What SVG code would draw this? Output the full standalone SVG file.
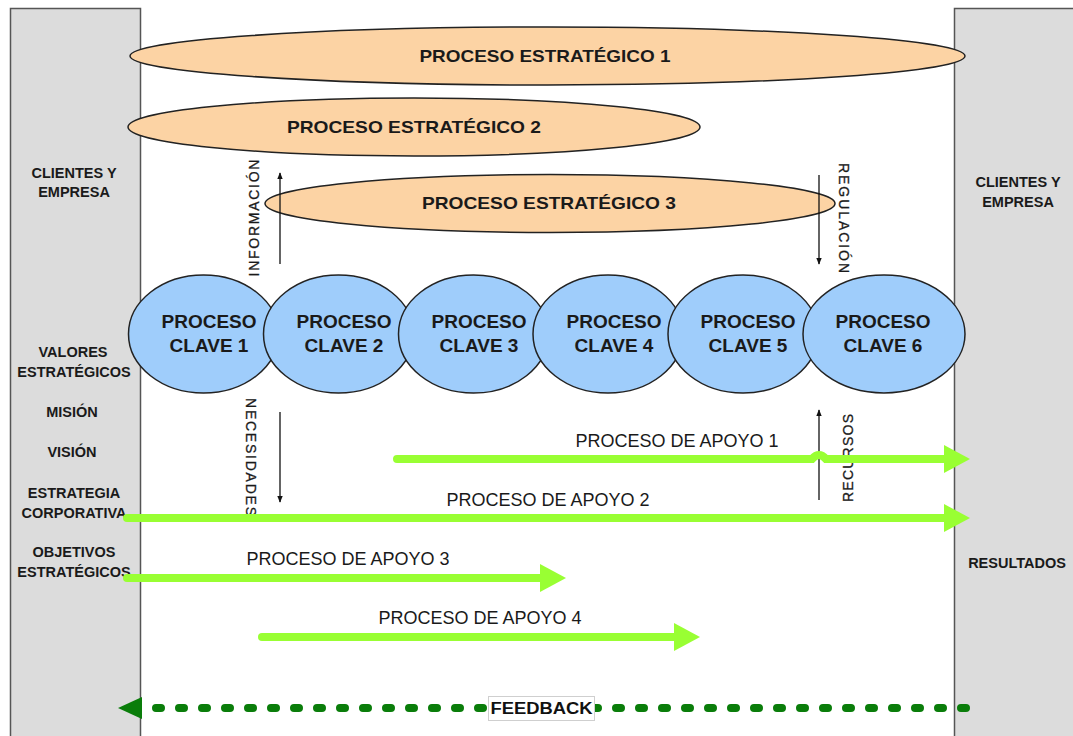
<svg xmlns="http://www.w3.org/2000/svg" width="1073" height="736" viewBox="0 0 1073 736">
  <style>
    .panel { fill: #dcdcdc; stroke: #555; stroke-width: 1.5; }
    .side { font-family: "Liberation Sans", Arial, sans-serif; font-weight: bold; font-size: 14.5px; fill: #1a1a1a; text-anchor: middle; }
    .strat { fill: #fcd3a4; stroke: #222; stroke-width: 1.5; }
    .strat-t { font-family: "Liberation Sans", Arial, sans-serif; font-weight: bold; font-size: 17px; fill: #1a1a1a; text-anchor: middle; }
    .key { fill: #9fcdfb; stroke: #222; stroke-width: 1.5; }
    .key-t { font-family: "Liberation Sans", Arial, sans-serif; font-weight: bold; font-size: 19px; fill: #1a1a1a; text-anchor: middle; }
    .flow-t { font-family: "Liberation Sans", Arial, sans-serif; font-size: 14px; fill: #1a1a1a; text-anchor: middle; stroke: #1a1a1a; stroke-width: 0.3; }
    .apoyo { stroke: #99ff33; stroke-width: 8; fill: none; stroke-linecap: round; }
    .apoyo-head { fill: #99ff33; }
    .apoyo-t { font-family: "Liberation Sans", Arial, sans-serif; font-size: 18px; fill: #1a1a1a; text-anchor: middle; }
    .thin { stroke: #111; stroke-width: 1.3; fill: none; }
    .fb { stroke: #0a7d0a; stroke-width: 8; stroke-linecap: round; stroke-dasharray: 5 18; fill: none; }
  </style>
  <defs>
    <marker id="tip" viewBox="0 0 10 10" refX="9" refY="5" markerWidth="7" markerHeight="7" orient="auto" markerUnits="userSpaceOnUse">
      <path d="M0,1 L10,5 L0,9 Z" fill="#111"/>
    </marker>
  </defs>

  <rect width="1073" height="736" fill="#ffffff"/>

  <!-- side panels -->
  <g id="panel-left">
    <rect class="panel" x="10.5" y="8.5" width="130" height="740"/>
    <text class="side" x="74" y="178">CLIENTES Y</text>
    <text class="side" x="74" y="197">EMPRESA</text>
    <text class="side" x="73" y="357">VALORES</text>
    <text class="side" x="74" y="377">ESTRATÉGICOS</text>
    <text class="side" x="72" y="417">MISIÓN</text>
    <text class="side" x="72" y="457">VISIÓN</text>
    <text class="side" x="74" y="498">ESTRATEGIA</text>
    <text class="side" x="74" y="518">CORPORATIVA</text>
    <text class="side" x="74" y="557">OBJETIVOS</text>
    <text class="side" x="74" y="577">ESTRATÉGICOS</text>
  </g>
  <g id="panel-right">
    <rect class="panel" x="954.5" y="8.5" width="130" height="740"/>
    <text class="side" x="1018" y="187">CLIENTES Y</text>
    <text class="side" x="1018" y="207">EMPRESA</text>
    <text class="side" x="1017" y="568">RESULTADOS</text>
  </g>

  <!-- strategic processes -->
  <g id="estrategico-1">
    <ellipse class="strat" cx="547.5" cy="56" rx="417.5" ry="29"/>
    <text class="strat-t" x="545" y="62" textLength="251" lengthAdjust="spacingAndGlyphs">PROCESO ESTRATÉGICO 1</text>
  </g>
  <g id="estrategico-2">
    <ellipse class="strat" cx="414" cy="127" rx="286" ry="29"/>
    <text class="strat-t" x="414" y="133" textLength="254" lengthAdjust="spacingAndGlyphs">PROCESO ESTRATÉGICO 2</text>
  </g>
  <g id="estrategico-3">
    <ellipse class="strat" cx="550" cy="203.5" rx="285" ry="29"/>
    <text class="strat-t" x="549" y="209" textLength="254" lengthAdjust="spacingAndGlyphs">PROCESO ESTRATÉGICO 3</text>
  </g>

  <!-- key processes -->
  <g id="clave-1">
    <ellipse class="key" cx="203.5" cy="334" rx="75" ry="59"/>
    <text class="key-t" x="209" y="328">PROCESO</text>
    <text class="key-t" x="209" y="352">CLAVE 1</text>
  </g>
  <g id="clave-2">
    <ellipse class="key" cx="338.5" cy="334" rx="75" ry="59"/>
    <text class="key-t" x="344" y="328">PROCESO</text>
    <text class="key-t" x="344" y="352">CLAVE 2</text>
  </g>
  <g id="clave-3">
    <ellipse class="key" cx="473.5" cy="334" rx="75" ry="59"/>
    <text class="key-t" x="479" y="328">PROCESO</text>
    <text class="key-t" x="479" y="352">CLAVE 3</text>
  </g>
  <g id="clave-4">
    <ellipse class="key" cx="608" cy="334" rx="75" ry="59"/>
    <text class="key-t" x="614" y="328">PROCESO</text>
    <text class="key-t" x="614" y="352">CLAVE 4</text>
  </g>
  <g id="clave-5">
    <ellipse class="key" cx="743" cy="334" rx="75" ry="59"/>
    <text class="key-t" x="748" y="328">PROCESO</text>
    <text class="key-t" x="748" y="352">CLAVE 5</text>
  </g>
  <g id="clave-6">
    <ellipse class="key" cx="884" cy="334" rx="81" ry="59"/>
    <text class="key-t" x="883" y="328">PROCESO</text>
    <text class="key-t" x="883" y="352">CLAVE 6</text>
  </g>

  <!-- connectors -->
  <g id="connectors">
    <!-- information / needs / regulation / resources flows -->
    <line class="thin" x1="280" y1="264" x2="280" y2="173" marker-end="url(#tip)"/>
    <text class="flow-t" transform="translate(259,218) rotate(-90)" textLength="117" lengthAdjust="spacing">INFORMACIÓN</text>
    <line class="thin" x1="280" y1="412" x2="280" y2="502" marker-end="url(#tip)"/>
    <text class="flow-t" transform="translate(246,457) rotate(90)" textLength="118" lengthAdjust="spacing">NECESIDADES</text>
    <line class="thin" x1="819" y1="175" x2="819" y2="264" marker-end="url(#tip)"/>
    <text class="flow-t" transform="translate(839,218) rotate(90)" textLength="110" lengthAdjust="spacing">REGULACIÓN</text>
    <line class="thin" x1="819" y1="500" x2="819" y2="410" marker-end="url(#tip)"/>
    <text class="flow-t" transform="translate(853,458) rotate(-90)" textLength="88" lengthAdjust="spacing">RECURSOS</text>

    <!-- support processes -->
    <path class="apoyo" d="M397,459 H812 Q819,451 826,459 H946"/>
    <path class="apoyo-head" d="M944,445 L970,459 L944,473 Z"/>
    <text class="apoyo-t" x="677" y="447">PROCESO DE APOYO 1</text>

    <path class="apoyo" d="M127,518 H946"/>
    <path class="apoyo-head" d="M944,504 L970,518 L944,532 Z"/>
    <text class="apoyo-t" x="548" y="506">PROCESO DE APOYO 2</text>

    <path class="apoyo" d="M127,578 H542"/>
    <path class="apoyo-head" d="M540,564 L566,578 L540,592 Z"/>
    <text class="apoyo-t" x="348" y="565">PROCESO DE APOYO 3</text>

    <path class="apoyo" d="M262,637 H676"/>
    <path class="apoyo-head" d="M674,623 L700,637 L674,651 Z"/>
    <text class="apoyo-t" x="480" y="624">PROCESO DE APOYO 4</text>

    <!-- feedback loop -->
    <path class="fb" d="M966,708 H146"/>
    <path d="M142,697 L118,708 L142,719 Z" fill="#0a7d0a"/>
    <rect x="488.5" y="696.5" width="106" height="24" fill="#ffffff" stroke="#cfcfcf" stroke-width="1"/>
    <text x="541.5" y="714" font-family="Liberation Sans, Arial, sans-serif" font-weight="bold" font-size="16" fill="#111" text-anchor="middle" textLength="102" lengthAdjust="spacingAndGlyphs">FEEDBACK</text>
  </g>
</svg>
